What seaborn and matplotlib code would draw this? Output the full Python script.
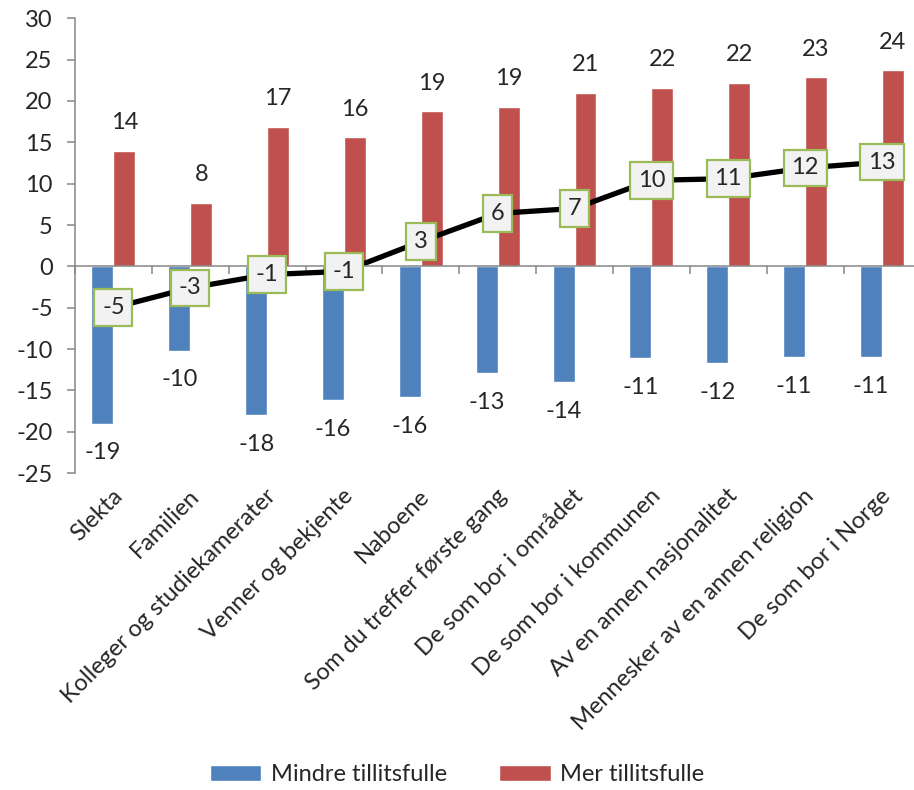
import numpy as np
import pandas as pd
import matplotlib
matplotlib.use("Agg")
import matplotlib.pyplot as plt
import seaborn as sns

## Kategorier og verdier lest av figuren
kategorier = ["Slekta", "Familien", "Kolleger og studiekamerater", "Venner og bekjente",
              "Naboene", "Som du treffer første gang", "De som bor i området",
              "De som bor i kommunen", "Av en annen nasjonalitet",
              "Mennesker av en annen religion", "De som bor i Norge"]
mindre = [-19.0, -10.2, -18.0, -16.2, -15.8, -12.9, -14.0, -11.1, -11.7, -11.0, -11.0]
mer = [14.0, 7.7, 16.9, 15.6, 18.8, 19.3, 21.0, 21.6, 22.2, 22.9, 23.7]
netto = [-5.0, -2.6, -1.0, -0.6, 3.0, 6.4, 7.0, 10.4, 10.6, 11.9, 12.6]

blaa = "#4f81bd"
roed = "#c0504d"

sns.set_style("white")
plt.rcParams["font.family"] = ["Lato", "DejaVu Sans"]
plt.rcParams["axes.unicode_minus"] = False

##Lang tabell for seaborn
df = pd.DataFrame({
    "kategori": kategorier * 2,
    "verdi": mindre + mer,
    "serie": ["Mindre tillitsfulle"] * len(kategorier) + ["Mer tillitsfulle"] * len(kategorier),
})

fig = plt.figure(figsize=(9.14, 7.9), dpi=100)
ax = fig.add_axes([0.082, 0.401, 0.925, 0.576])

sns.barplot(data=df, x="kategori", y="verdi", hue="serie", palette=[blaa, roed],
            width=0.57, gap=0, saturation=1, ax=ax, legend=True)

x = np.arange(len(kategorier))
sns.lineplot(x=x, y=netto, color="black", linewidth=3.8, ax=ax, legend=False)

fs = 17
#Verdietiketter for stolpene
for i in range(len(kategorier)):
    ax.annotate(f"{mindre[i]:.0f}", (i - 0.1425, mindre[i]), xytext=(0, -21),
                textcoords="offset points", ha="center", va="center", fontsize=fs)
    ax.annotate(f"{mer[i]:.0f}", (i + 0.1425, mer[i]), xytext=(0, 20),
                textcoords="offset points", ha="center", va="center", fontsize=fs)
    ax.text(i, netto[i], f"{netto[i]:.0f}", ha="center", va="center", fontsize=fs, zorder=5,
            bbox=dict(boxstyle="square,pad=0.33", facecolor="#f2f2f2", edgecolor="#9bbb59", linewidth=1.6))
    ax.annotate(kategorier[i], (i, -25), xytext=(4, -14), textcoords="offset points",
                ha="right", va="center", rotation=45, rotation_mode="anchor", fontsize=fs)

ax.set_xlim(-0.5, len(kategorier) - 0.5)
ax.set_ylim(-25, 30)
ax.set_yticks(range(-25, 31, 5))
ax.set_xticks(np.arange(-0.5, len(kategorier), 1.0))
ax.set_xticklabels([])
ax.set_xlabel("")
ax.set_ylabel("")

for s in ["top", "right"]:
    ax.spines[s].set_visible(False)
ax.spines["left"].set_color("#868686")
ax.spines["bottom"].set_color("#868686")
ax.spines["left"].set_linewidth(1.1)
ax.spines["bottom"].set_linewidth(1.1)
ax.spines["bottom"].set_position(("data", 0))
ax.tick_params(axis="y", left=True, length=6, width=1.1, color="#868686", labelsize=fs, pad=10)
ax.tick_params(axis="x", bottom=True, length=6, width=1.1, color="#868686")

ax.legend(loc="center", bbox_to_anchor=(0.5, 0.019), bbox_transform=fig.transFigure,
          ncol=2, frameon=False, fontsize=fs, handlelength=2.2, handleheight=0.7,
          columnspacing=2.2, handletextpad=0.4)

plt.savefig("out.png", dpi=100)
